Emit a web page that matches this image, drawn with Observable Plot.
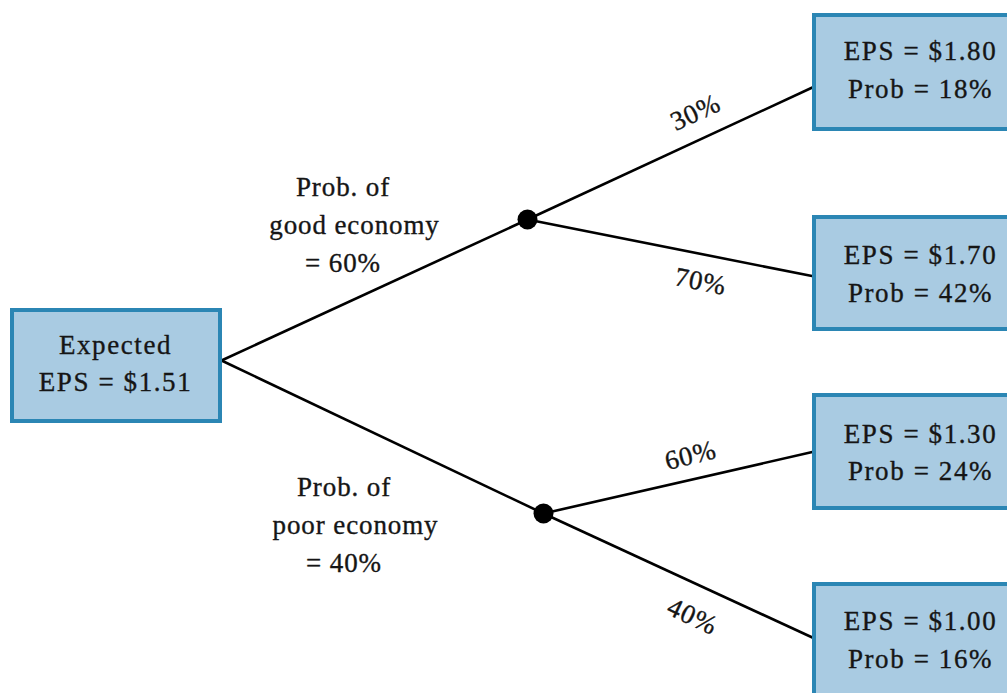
<!DOCTYPE html>
<html>
<head>
<meta charset="utf-8">
<script src="https://cdn.jsdelivr.net/npm/d3@7"></script>
<script src="https://cdn.jsdelivr.net/npm/@observablehq/plot@0.6"></script>
<style>
  html, body { margin: 0; padding: 0; background: #fff; }
</style>
</head>
<body>
<div id="chart"></div>
<script>
// ---- data ----
const economies = ["good", "poor"];
const economyProb = [0.60, 0.40];
const outcomeProb = [0.30, 0.70, 0.60, 0.40];   // conditional on the economy
const outcomeEPS = [1.80, 1.70, 1.30, 1.00];
const outcomeParent = [0, 0, 1, 1];

// derived values
const jointProb = outcomeProb.map((p, i) => p * economyProb[outcomeParent[i]]);
const expectedEPS = d3.sum(outcomeEPS, (e, i) => e * jointProb[i]);

// ---- layout (diagram geometry) ----
const W = 1007, H = 693;
const rootBox = {x1: 12, x2: 220, y1: 310, y2: 421};
const rootTextPos = {x: 115, y: 360};
const rootAnchor = {x: 221, y: 360};
const chanceNodes = [{x: 527, y: 219}, {x: 543, y: 513}];
const leafX1 = 814, leafX2 = 1015;
const leafY = [[15, 129], [217, 329], [395, 508], [584, 705]];
const leafTextY = [66.5, 270.5, 449, 636.5];
const leafTextX = 920;
const leafAnchorY = [86, 276, 451, 638];
const econLabelPos = [{x: 354, y: 221}, {x: 355, y: 521}];
const outcomeLabelPos = [
  {x: 695, y: 112, r: -25},
  {x: 700, y: 281, r: 11},
  {x: 690, y: 455, r: -14},
  {x: 692, y: 616, r: 25}
];

const pct = p => `${Math.round(p * 100)}%`;
const money = v => `$${v.toFixed(2)}`;
const pad = "\u00a0\u00a0\u00a0";

// build tables
const boxes = [
  {...rootBox, label: `Expected\nEPS = ${money(expectedEPS)}`, cx: rootTextPos.x, cy: rootTextPos.y},
  ...outcomeEPS.map((e, i) => ({
    x1: leafX1, x2: leafX2, y1: leafY[i][0], y2: leafY[i][1],
    label: `EPS = ${money(e)}\nProb = ${pct(jointProb[i])}`,
    cx: leafTextX, cy: leafTextY[i]
  }))
];

const edges = [
  ...chanceNodes.map(n => ({x1: rootAnchor.x, y1: rootAnchor.y, x2: n.x, y2: n.y})),
  ...outcomeEPS.map((e, i) => ({x1: chanceNodes[outcomeParent[i]].x, y1: chanceNodes[outcomeParent[i]].y, x2: leafX1, y2: leafAnchorY[i]}))
];

const econLabels = economies.map((e, i) => ({
  ...econLabelPos[i], label: `Prob. of${pad}\n${e} economy\n= ${pct(economyProb[i])}${pad}`
}));
const outcomeLabels = outcomeProb.map((p, i) => ({...outcomeLabelPos[i], label: pct(p)}));

const font = "'Liberation Serif', 'Times New Roman', serif";
const fs = 27;
const ink = "#151515";
const textOpts = {fontSize: fs, fill: ink, stroke: ink, strokeWidth: 0.35, fontFamily: font, textAnchor: "middle", lineAnchor: "middle"};

const chart = Plot.plot({
  width: W, height: H,
  margin: 0,
  x: {domain: [0, W], axis: null},
  y: {domain: [0, H], reverse: true, axis: null},
  style: {background: "#fff", fontFamily: font},
  marks: [
    Plot.link(edges, {x1: "x1", y1: "y1", x2: "x2", y2: "y2", stroke: "#000", strokeWidth: 2.6}),
    Plot.dot(chanceNodes, {x: "x", y: "y", r: 10, fill: "#000", stroke: "none"}),
    Plot.rect(boxes, {x1: "x1", x2: "x2", y1: "y1", y2: "y2", fill: "#a9cbe2", stroke: "#2b86b4", strokeWidth: 4}),
    Plot.text(boxes, {x: "cx", y: "cy", text: "label", lineHeight: 1.38, ...textOpts}),
    Plot.text(econLabels, {x: "x", y: "y", text: "label", lineHeight: 1.41, ...textOpts}),
    Plot.text(outcomeLabels, {x: "x", y: "y", text: "label", rotate: "r", ...textOpts})
  ]
});
// per-group letter spacing (Garamond-like widths)
const textGroups = d3.select(chart).selectAll('g[aria-label="text"]').nodes();
const spacing = [1.6, 0.9, 0.8];
textGroups.forEach((g, i) => d3.select(g).style("letter-spacing", `${spacing[i]}px`));
document.getElementById("chart").appendChild(chart);
</script>
</body>
</html>
